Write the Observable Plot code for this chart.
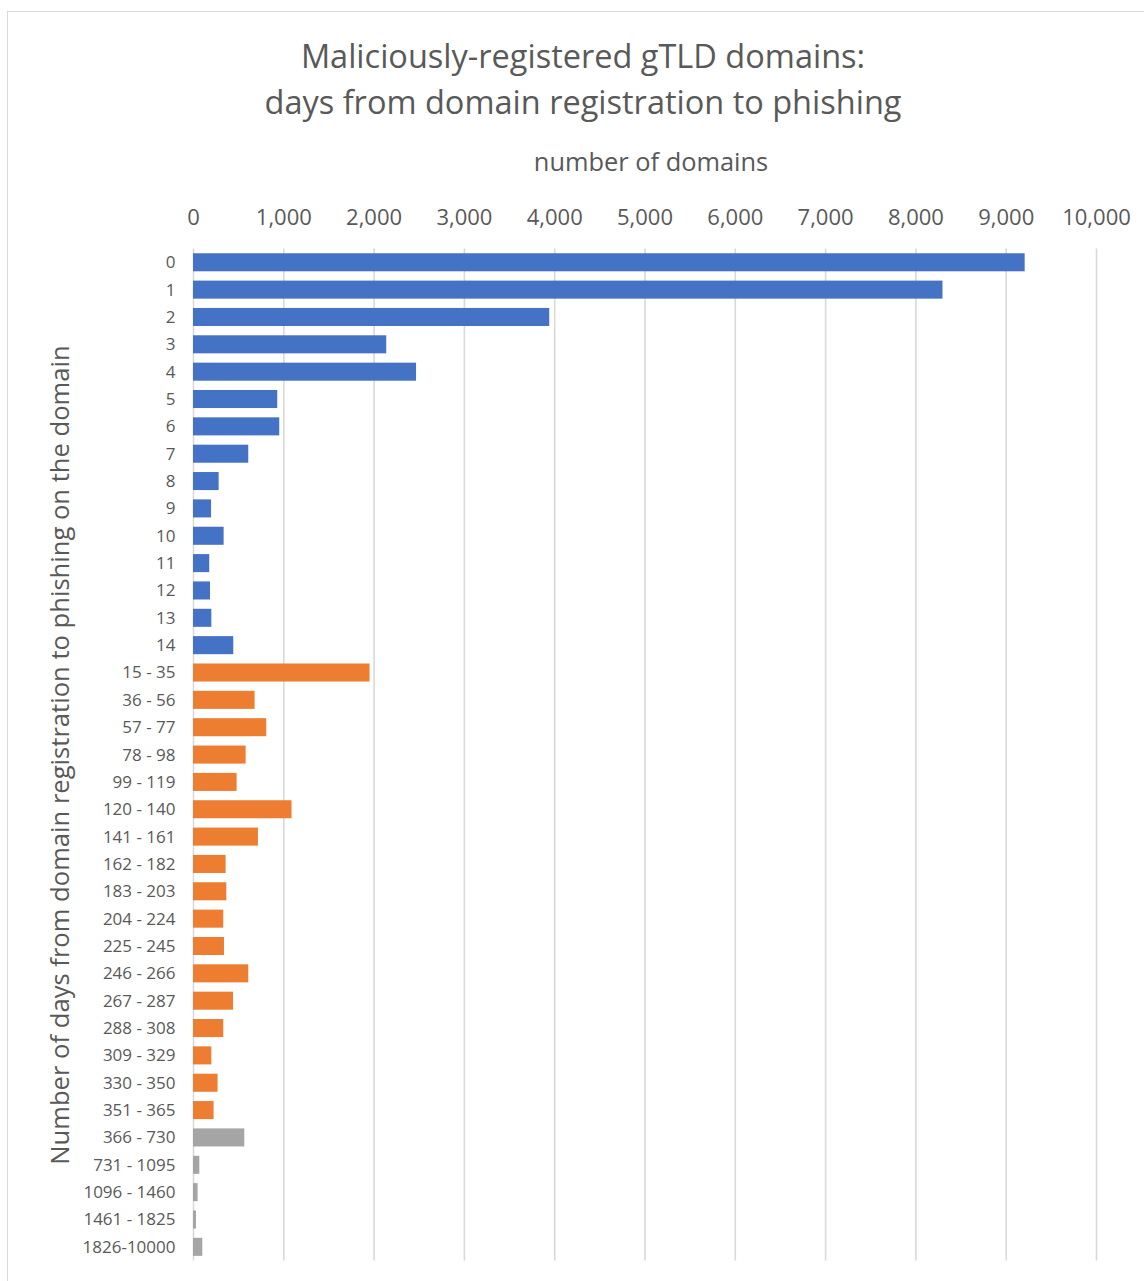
<!DOCTYPE html>
<html>
<head>
<meta charset="utf-8">
<script src="https://cdn.jsdelivr.net/npm/d3@7"></script>
<script src="https://cdn.jsdelivr.net/npm/@observablehq/plot@0.6"></script>
<style>
  html, body { margin: 0; padding: 0; background: #fff; }
  body { width: 1144px; height: 1281px; position: relative; overflow: hidden; font-family: "Open Sans", sans-serif; color: #595959; }
  #frame { position: absolute; left: 7px; top: 11px; width: 1300px; height: 1400px; border: 1.5px solid #d9d9d9; box-sizing: border-box; }
  #title { position: absolute; left: 0; width: 1166px; top: 33px; text-align: center; font-size: 32.5px; line-height: 46px; }
  #xlabel { position: absolute; left: 451px; width: 400px; top: 144px; text-align: center; font-size: 25.4px; line-height: 34px; }
  #ylabel { position: absolute; left: 60px; top: 755px; width: 1000px; margin-left: -500px; margin-top: -18px; text-align: center; font-size: 25.6px; line-height: 36px; transform: rotate(-90deg); white-space: nowrap; }
  #chart { position: absolute; left: 0; top: 0; }
</style>
</head>
<body>
<div id="frame"></div>
<div id="title">Maliciously-registered gTLD domains:<br>days from domain registration to phishing</div>
<div id="xlabel">number of domains</div>
<div id="ylabel">Number of days from domain registration to phishing on the domain</div>
<div id="chart"></div>
<script>
// Single days 0–14 after registration
const dayLabels = ["0", "1", "2", "3", "4", "5", "6", "7", "8", "9", "10", "11", "12", "13", "14"];
const dayCounts = [9210, 8300, 3945, 2140, 2470, 933, 955, 612, 284, 200, 339, 180, 188, 203, 446];

// Three-week bins up to one year
const weekLabels = ["15 - 35", "36 - 56", "57 - 77", "78 - 98", "99 - 119", "120 - 140", "141 - 161",
  "162 - 182", "183 - 203", "204 - 224", "225 - 245", "246 - 266", "267 - 287", "288 - 308",
  "309 - 329", "330 - 350", "351 - 365"];
const weekCounts = [1955, 682, 811, 583, 483, 1091, 719, 361, 369, 335, 343, 612, 443, 335, 203, 272, 228];

// Yearly bins beyond one year
const yearLabels = ["366 - 730", "731 - 1095", "1096 - 1460", "1461 - 1825", "1826-10000"];
const yearCounts = [568, 70, 51, 33, 103];

const groupNames = ["days", "weeks", "years"];
const groupColors = ["#4472C4", "#ED7D31", "#A5A5A5"];

const xTicks = d3.range(0, 10001, 1000);

const rows = [
  ...dayLabels.map((label, i) => ({label, count: dayCounts[i], group: "days"})),
  ...weekLabels.map((label, i) => ({label, count: weekCounts[i], group: "weeks"})),
  ...yearLabels.map((label, i) => ({label, count: yearCounts[i], group: "years"}))
];
const categories = rows.map(d => d.label);

const chart = Plot.plot({
  width: 1144,
  height: 1281,
  marginLeft: 193,
  marginRight: 48,
  marginTop: 248.6,
  marginBottom: 20.5,
  style: {background: "transparent", fontFamily: "'Open Sans', sans-serif", color: "#595959", overflow: "visible"},
  x: {domain: [0, 10000]},
  y: {domain: categories, paddingInner: 0.34, paddingOuter: 0.17, round: false},
  color: {domain: groupNames, range: groupColors},
  marks: [
    Plot.gridX(xTicks, {stroke: "#d9d9d9", strokeOpacity: 1, strokeWidth: 1.6}),
    Plot.barX(rows, {x: "count", y: "label", fill: "group"}),
    Plot.axisX(xTicks, {anchor: "top", tickSize: 0, tickPadding: 24, fontSize: 22, fill: "#595959", tickFormat: d3.format(","), label: null}),
    Plot.axisY({tickSize: 0, tickPadding: 18, fontSize: 17, fill: "#595959", label: null})
  ]
});
document.getElementById("chart").appendChild(chart);
</script>
</body>
</html>
